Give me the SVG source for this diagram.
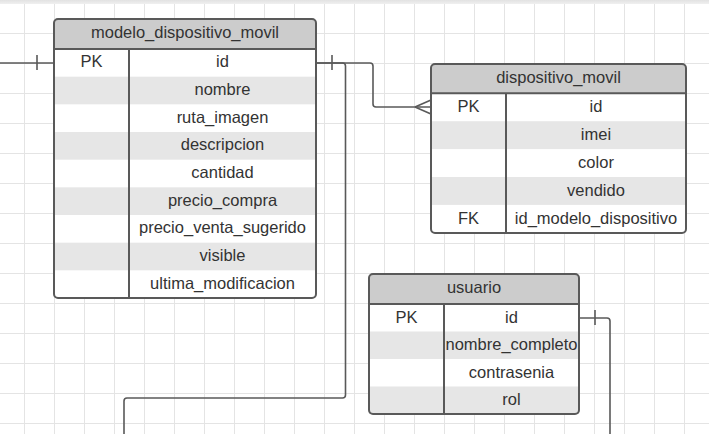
<svg xmlns="http://www.w3.org/2000/svg" width="709" height="434" viewBox="0 0 709 434">
<style>
  .hdr { fill: #cccccc; }
  .alt { fill: #e6e6e6; }
  .box { fill: none; stroke: #595959; stroke-width: 2; }
  .div { stroke: #595959; stroke-width: 2; }
  .t { font-family: "Liberation Sans", Arial, sans-serif; font-size: 16.5px; fill: #333333; text-anchor: middle; }
  .con { fill: none; stroke: #595959; stroke-width: 1.6; }
</style>
<defs>
  <pattern id="grid" patternUnits="userSpaceOnUse" x="24" y="3" width="30" height="30">
    <path d="M0.5 0 V30 M0 0.5 H30" fill="none" stroke="#e4e4e4" stroke-width="1"/>
  </pattern>
  <linearGradient id="topband" x1="0" y1="0" x2="0" y2="1">
    <stop offset="0" stop-color="#e2e2e2"/>
    <stop offset="1" stop-color="#f0f0f0"/>
  </linearGradient>
</defs>
<rect x="0" y="0" width="709" height="434" fill="#ffffff"/>
<rect x="0" y="0" width="709" height="434" fill="url(#grid)"/>
<rect x="0" y="0" width="709" height="4" fill="url(#topband)"/>

<g id="connectors">
  <path class="con" d="M0 63 H54"/>
  <path class="con" d="M37 55 V70"/>
  <path class="con" d="M316 63 H370 Q373 63 373 66 V104 Q373 107 376 107 H431"/>
  <path class="con" d="M415 107 L431 100 M415 107 L431 114"/>
  <path class="con" d="M316 63 H342.5 Q345.5 63 345.5 66 V395 Q345.5 398 342.5 398 H127 Q124 398 124 401 V434"/>
  <path class="con" d="M332 55 V70"/>
  <path class="con" d="M579 318 H607 Q610 318 610 321 V434"/>
  <path class="con" d="M595 310 V325"/>
</g>

<g id="modelo_dispositivo_movil">
  <rect x="54" y="19" width="262" height="279" rx="4" fill="#ffffff"/>
  <path class="hdr" d="M54 49 V23 Q54 19 58 19 H312 Q316 19 316 23 V49 Z"/>
  <rect class="alt" x="54" y="76.67" width="262" height="27.67"/>
  <rect class="alt" x="54" y="132" width="262" height="27.67"/>
  <rect class="alt" x="54" y="187.33" width="262" height="27.67"/>
  <rect class="alt" x="54" y="242.67" width="262" height="27.67"/>
  <line class="div" x1="54" y1="49" x2="316" y2="49"/>
  <line class="div" x1="129" y1="49" x2="129" y2="298"/>
  <rect class="box" x="54" y="19" width="262" height="279" rx="4"/>
  <text class="t" x="185" y="38">modelo_dispositivo_movil</text>
  <text class="t" x="91.5" y="67.3">PK</text>
  <text class="t" x="222.5" y="67.3">id</text>
  <text class="t" x="222.5" y="95">nombre</text>
  <text class="t" x="222.5" y="122.6">ruta_imagen</text>
  <text class="t" x="222.5" y="150.3">descripcion</text>
  <text class="t" x="222.5" y="178">cantidad</text>
  <text class="t" x="222.5" y="205.6">precio_compra</text>
  <text class="t" x="222.5" y="233.3">precio_venta_sugerido</text>
  <text class="t" x="222.5" y="261">visible</text>
  <text class="t" x="222.5" y="288.6">ultima_modificacion</text>
</g>

<g id="dispositivo_movil">
  <rect x="431" y="64" width="255" height="169" rx="4" fill="#ffffff"/>
  <path class="hdr" d="M431 93.3 V68 Q431 64 435 64 H682 Q686 64 686 68 V93.3 Z"/>
  <rect class="alt" x="431" y="121.2" width="255" height="27.9"/>
  <rect class="alt" x="431" y="177" width="255" height="27.9"/>
  <line class="div" x1="431" y1="93.3" x2="686" y2="93.3"/>
  <line class="div" x1="506" y1="93.3" x2="506" y2="233"/>
  <rect class="box" x="431" y="64" width="255" height="169" rx="4"/>
  <text class="t" x="558.5" y="83">dispositivo_movil</text>
  <text class="t" x="468.5" y="112">PK</text>
  <text class="t" x="596" y="112">id</text>
  <text class="t" x="596" y="139.9">imei</text>
  <text class="t" x="596" y="167.8">color</text>
  <text class="t" x="596" y="195.7">vendido</text>
  <text class="t" x="468.5" y="223.6">FK</text>
  <text class="t" x="596" y="223.6">id_modelo_dispositivo</text>
</g>

<g id="usuario">
  <rect x="369" y="274" width="210" height="140" rx="4" fill="#ffffff"/>
  <path class="hdr" d="M369 304 V278 Q369 274 373 274 H575 Q579 274 579 278 V304 Z"/>
  <rect class="alt" x="369" y="331.5" width="210" height="27.5"/>
  <rect class="alt" x="369" y="386.5" width="210" height="27.5"/>
  <line class="div" x1="369" y1="304" x2="579" y2="304"/>
  <line class="div" x1="444" y1="304" x2="444" y2="414"/>
  <rect class="box" x="369" y="274" width="210" height="140" rx="4"/>
  <text class="t" x="474" y="293">usuario</text>
  <text class="t" x="406.5" y="322.5">PK</text>
  <text class="t" x="511.5" y="322.5">id</text>
  <text class="t" x="511.5" y="350">nombre_completo</text>
  <text class="t" x="511.5" y="377.5">contrasenia</text>
  <text class="t" x="511.5" y="405">rol</text>
</g>
</svg>
